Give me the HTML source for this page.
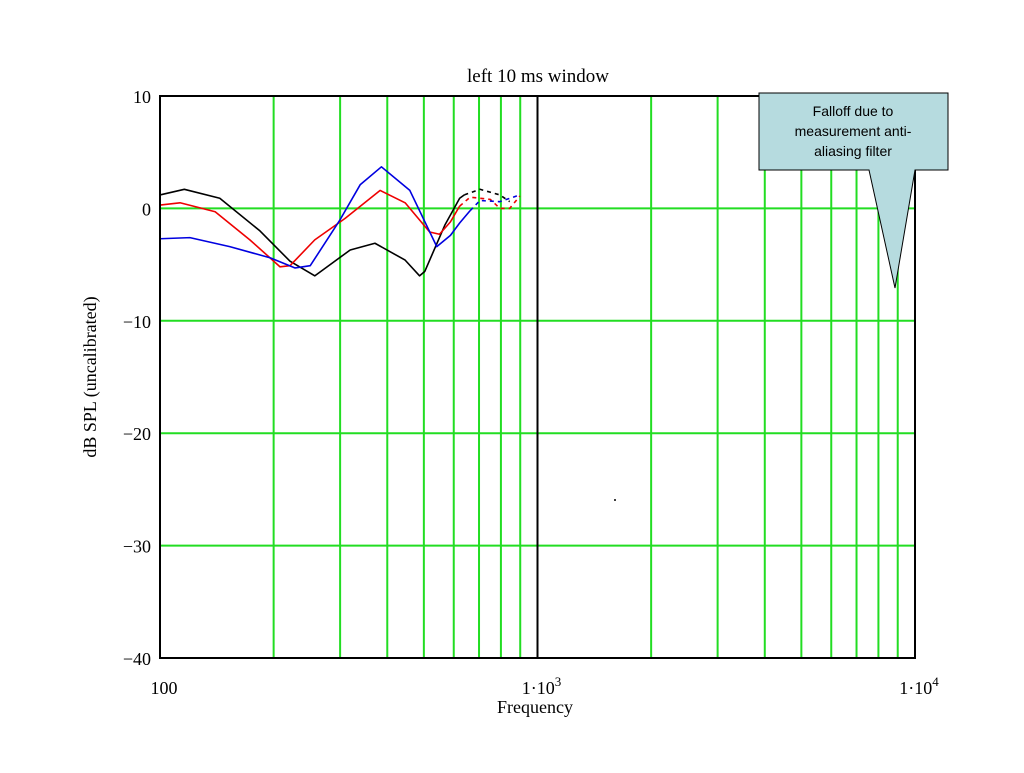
<!DOCTYPE html>
<html><head><meta charset="utf-8"><style>
body{margin:0;background:#fff;}
svg text{font-family:"Liberation Serif",serif;}
</style></head><body>
<svg id="chart" width="1024" height="768" xmlns="http://www.w3.org/2000/svg">
<text x="538" y="82" font-size="19" text-anchor="middle">left 10 ms window</text>
<g id="grid"></g>
<g id="series"></g>
<rect x="160" y="96" width="755" height="562" fill="none" stroke="#000" stroke-width="2"/>
<g id="ticks"></g>
<text x="535" y="713" font-size="18" text-anchor="middle">Frequency</text>
<text transform="translate(96,377) rotate(-90)" font-size="18" text-anchor="middle">dB SPL (uncalibrated)</text>
<circle cx="615" cy="500" r="1" fill="#000"/>
<g>
<path d="M759,93 H948 V170 H915 L895,288 L869,170 H759 Z" fill="#b6dbdf" stroke="#000" stroke-width="1"/>
<text x="853" y="116" font-size="14" text-anchor="middle" style="font-family:'Liberation Sans',sans-serif">Falloff due to</text>
<text x="853" y="136" font-size="14" text-anchor="middle" style="font-family:'Liberation Sans',sans-serif">measurement anti-</text>
<text x="853" y="156" font-size="14" text-anchor="middle" style="font-family:'Liberation Sans',sans-serif">aliasing filter</text>
</g>
</svg>
<script>
const yTicks=[10,0,-10,-20,-30,-40];
const xGrid=[200,300,400,500,600,700,800,900,2000,3000,4000,5000,6000,7000,8000,9000];
const blackF=[100,116,144,184,221,257,319,371,446,487,503,568,622,640];
const blackDb=[1.2,1.7,0.9,-2,-4.7,-6.0,-3.7,-3.1,-4.6,-6.0,-5.6,-1.5,0.9,1.2];
const blackDashF=[640,704,795,844];
const blackDashDb=[1.2,1.7,1.2,0.6];
const redF=[100,113,140,173,208,221,257,309,383,446,518,550,588,622];
const redDb=[0.3,0.5,-0.3,-2.8,-5.2,-5.1,-2.8,-0.9,1.6,0.5,-2.1,-2.3,-1.2,0.2];
const redDashF=[622,663,750,795,844,898];
const redDashDb=[0.2,1.0,0.8,0,0,1.1];
const blueF=[100,120,153,196,228,250,300,339,386,459,541,588,622,663];
const blueDb=[-2.7,-2.6,-3.4,-4.4,-5.3,-5.1,-1,2.1,3.7,1.6,-3.4,-2.4,-1.3,-0.2];
const blueDashF=[663,704,795,898];
const blueDashDb=[-0.2,0.7,0.6,1.2];
const NS="http://www.w3.org/2000/svg";
const X=f=>160+377.5*Math.log10(f/100);
const Y=d=>208.4-(d*11.24);
function mk(t,a,p){const e=document.createElementNS(NS,t);for(const k in a)e.setAttribute(k,a[k]);p.appendChild(e);return e;}
const grid=document.getElementById('grid');
yTicks.forEach(v=>{const l=mk('line',{x1:160,x2:915,y1:Y(v),y2:Y(v),stroke:'#22dd22','stroke-width':2},grid);

});
xGrid.forEach(v=>{const l=mk('line',{x1:X(v),x2:X(v),y1:96,y2:658,stroke:'#22dd22','stroke-width':2},grid);

});
const dec=mk('line',{x1:X(1000),x2:X(1000),y1:96,y2:658,stroke:'#000','stroke-width':2},grid);


const ser=document.getElementById('series');
function line(fs,ds,c,dash,name){const p=mk('polyline',{points:fs.map((f,i)=>X(f)+','+Y(ds[i])).join(' '),fill:'none',stroke:c,'stroke-width':1.6,'stroke-dasharray':dash?'4,4':'none','stroke-linejoin':'round'},ser);

}
line(blackF,blackDb,'#000',false,'black-series');
line(blackDashF,blackDashDb,'#000',true,'black-series-dashed');
line(redF,redDb,'#e00',false,'red-series');
line(redDashF,redDashDb,'#e00',true,'red-series-dashed');
line(blueF,blueDb,'#0000e0',false,'blue-series');
line(blueDashF,blueDashDb,'#0000e0',true,'blue-series-dashed');
const tk=document.getElementById('ticks');
yTicks.forEach(v=>{const t=mk('text',{x:151,y:Y(v)+7,'font-size':18,'text-anchor':'end'},tk);t.textContent=v<0?'\u2212'+(-v):String(v);

});
const xl=[[100,'100',''],[1000,'1\u00b710','3'],[10000,'1\u00b710','4']];
xl.forEach(a=>{const t=mk('text',{x:X(a[0])+(a[2]?4:4),y:694,'font-size':18,'text-anchor':'middle'},tk);t.textContent=a[1];
if(a[2]){const s=mk('tspan',{dy:-8,'font-size':13},t);s.textContent=a[2];}

});
</script>
</body></html>
